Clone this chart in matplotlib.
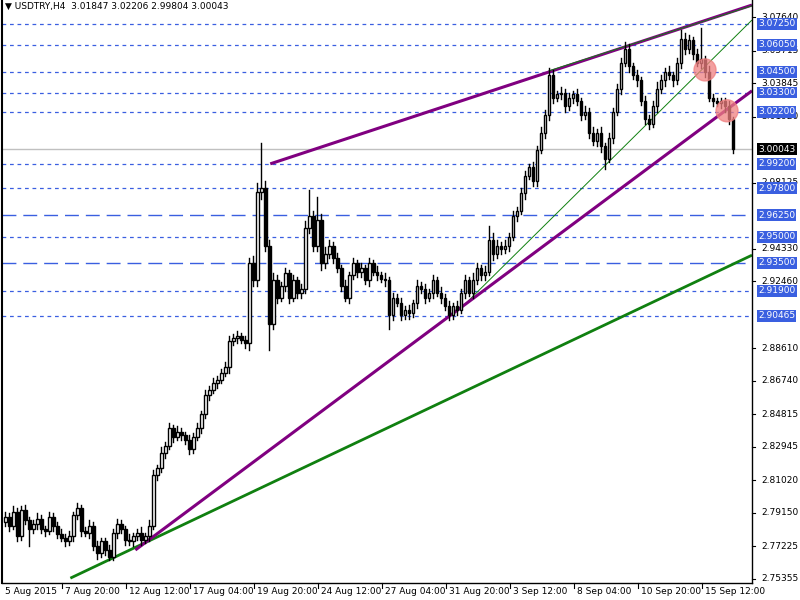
import numpy as np
import matplotlib.pyplot as plt
from matplotlib.patches import Ellipse

# USDTRY H4 closes, one per bar
closes = [2.789,2.784,2.792,2.778,2.793,2.787,2.782,2.785,2.788,2.782,
          2.781,2.789,2.784,2.779,2.777,2.775,2.778,2.790,2.794,2.781,
          2.780,2.784,2.772,2.768,2.775,2.770,2.766,2.780,2.785,2.782,
          2.776,2.775,2.778,2.780,2.776,2.778,2.784,2.813,2.817,2.826,
          2.830,2.840,2.835,2.838,2.836,2.833,2.828,2.835,2.840,2.848,
          2.859,2.862,2.866,2.868,2.872,2.875,2.890,2.892,2.893,2.891,
          2.889,2.935,2.925,2.976,2.978,2.945,2.900,2.925,2.915,2.922,
          2.929,2.915,2.925,2.918,2.920,2.955,2.962,2.945,2.960,2.935,
          2.940,2.945,2.938,2.932,2.922,2.915,2.928,2.935,2.930,2.932,
          2.925,2.935,2.930,2.928,2.926,2.925,2.905,2.915,2.912,2.905,
          2.908,2.906,2.912,2.922,2.920,2.915,2.918,2.925,2.918,2.915,
          2.910,2.905,2.910,2.908,2.918,2.925,2.918,2.925,2.932,2.928,
          2.930,2.948,2.940,2.945,2.943,2.945,2.950,2.962,2.965,2.975,
          2.985,2.990,2.982,3.000,3.010,3.020,3.043,3.030,3.032,3.033,
          3.025,3.030,3.032,3.028,3.020,3.022,3.010,3.005,3.010,3.002,
          2.995,3.007,3.022,3.035,3.050,3.058,3.048,3.043,3.040,3.028,
          3.018,3.015,3.025,3.035,3.040,3.045,3.043,3.040,3.050,3.064,
          3.058,3.063,3.055,3.050,3.052,3.045,3.030,3.028,3.027,3.028,
          3.025,3.018,3.00043]
# wick lengths in thousandths
wick_up = [3,2,3,2,2,3,2,2,3,2, 2,3,2,2,3,2,3,2,3,2, 2,3,2,3,2,2,3,2,3,2,
           2,3,2,2,3,2,3,3,2,3, 2,3,2,3,2,2,3,2,3,2, 3,2,3,2,2,3,3,2,3,2,
           2,3,4,5,26,4,3,4,3,2, 3,2,3,2,3,4,15,3,13,3, 4,3,2,3,2,3,2,3,2,3,
           2,3,2,3,2,3,2,3,2,3, 2,3,2,3,2,3,2,3,2,3, 2,3,2,3,2,3,2,4,3,2,
           3,8,4,3,2,3,2,3,2,3, 3,2,3,2,3,3,4,3,2,3, 2,3,2,3,2,3,2,3,2,3,
           2,3,2,3,3,4,3,2,3,2, 3,2,3,4,3,2,3,2,3,5, 3,3,2,3,18,2,3,2,2,2,
           2,3,1]
wick_dn = [2,3,2,3,2,2,10,2,3,2, 3,2,3,2,2,3,2,3,2,3, 2,3,2,3,2,3,2,2,3,2,
           3,2,3,2,3,2,3,2,3,2, 3,2,3,2,3,2,3,2,2,3, 2,3,2,3,2,2,3,2,3,2,
           3,4,3,3,4,3,15,3,3,2, 3,3,2,3,3,2,3,3,3,4, 3,2,3,2,3,2,3,2,3,3,
           2,3,2,3,2,3,8,3,2,3, 2,3,2,3,2,3,2,3,2,3, 2,3,2,3,2,3,2,3,2,3,
           3,2,3,2,3,2,3,2,3,2, 3,2,3,3,2,3,3,3,2,3, 3,2,3,2,3,2,3,2,3,3,
           6,2,3,2,3,2,3,2,3,2, 3,3,2,3,2,3,2,3,2,3, 3,2,3,2,3,3,2,3,2,3,
           3,3,2]
first_open = 2.786

dotted_levels = [3.0725, 3.0605, 3.0450, 3.0330, 3.0220, 2.9920, 2.9780, 2.9500, 2.9190, 2.90465]
dashed_levels = [2.9625, 2.9350]
last_price = 3.00043
axis_ticks = [3.07640, 3.05715, 3.03845, 3.01920, 2.98125, 2.94330,
              2.92460, 2.88610, 2.86740, 2.84815, 2.82945, 2.81020, 2.79150,
              2.77225, 2.75355]
time_labels = ['7 Aug 20:00', '12 Aug 12:00', '17 Aug 04:00', '19 Aug 20:00', '24 Aug 12:00',
               '27 Aug 04:00', '31 Aug 20:00', '3 Sep 12:00', '8 Sep 04:00', '10 Sep 20:00',
               '15 Sep 12:00']
time_pos = [15, 31, 47, 63, 79, 95, 111, 127, 143, 159, 175]

# trend lines: (bar0, price0, bar1, price1)
purple_top = (66.25, 2.9920, 186.75, 3.0833)
purple_low = (32.5, 2.7700, 186.75, 3.0340)
green_thick = (16.25, 2.7538, 186.75, 2.9395)
green_thin = (113.5, 2.9080, 186.75, 3.0747)
circles = [(175.0, 3.0460), (180.5, 3.0225)]

fig = plt.figure(figsize=(8, 6), dpi=100)
ax = fig.add_axes([0.003, 0.028, 0.937, 0.972])
ymin, ymax = 2.7509, 3.0862
ax.set_ylim(ymin, ymax)
ax.set_xlim(-0.75, 186.75)

for lv in dotted_levels:
    ax.axhline(lv, color='#3a5fe0', lw=0.9, ls=(0, (3, 3)), zorder=1)
for lv in dashed_levels:
    ax.axhline(lv, color='#3a5fe0', lw=1.0, ls=(0, (10, 5)), zorder=1)
ax.axhline(last_price, color='#c0c0c0', lw=1.0, zorder=1)

for (x0, y0, x1, y1), c, w in [(green_thick, '#108010', 2.0), (green_thin, '#108010', 0.7),
                               (purple_low, '#800080', 2.2), (purple_top, '#800080', 2.2)]:
    ax.plot([x0, x1], [y0, y1], color=c, lw=w, zorder=2, solid_capstyle='butt')
ax.plot([136, 186.75], [3.0455, 3.0829], color='#108010', lw=0.7, zorder=2)

opens = [first_open] + closes[:-1]
for i, (o, c) in enumerate(zip(opens, closes)):
    hi = max(o, c) + wick_up[i] / 1000
    lo = min(o, c) - wick_dn[i] / 1000
    ax.plot([i, i], [lo, hi], color='black', lw=1.0, zorder=3)
    bottom = min(o, c)
    h = max(abs(c - o), 0.0004)
    ax.bar(i, h, bottom=bottom, width=0.65, color='white' if c >= o else 'black',
           edgecolor='black', linewidth=1.0, zorder=4)

for cx, cy in circles:
    ax.add_patch(Ellipse((cx, cy), 5.5, 22 / 1739, color='#f08080', alpha=0.75, zorder=5))

ax.tick_params(left=False, labelleft=False, bottom=False, labelbottom=False)
ax.spines['top'].set_visible(False)
ax.spines['left'].set_linewidth(1.5)
ax.spines['bottom'].set_linewidth(1.0)
ax.spines['right'].set_linewidth(1.0)

fs = 6.5
# right price axis
for t in axis_ticks:
    ax.plot([186.75, 187.6], [t, t], color='black', lw=0.8, clip_on=False)
    ax.text(1.012, t, '%.5f' % t, transform=ax.get_yaxis_transform(), fontsize=fs,
            va='center', ha='left', color='black')
for lv in dotted_levels + dashed_levels:
    ax.text(1.008, lv, '%.5f' % lv if lv == 2.90465 else '%.4f0' % lv,
            transform=ax.get_yaxis_transform(), fontsize=fs, va='center', ha='left',
            color='white', bbox=dict(boxstyle='square,pad=0.15', fc='#3a5fe0', ec='none'))
ax.text(1.008, last_price, '%.5f' % last_price, transform=ax.get_yaxis_transform(),
        fontsize=fs, va='center', ha='left', color='white',
        bbox=dict(boxstyle='square,pad=0.15', fc='black', ec='none'))

# bottom time axis
ax.text(0.0, -0.006, '5 Aug 2015', transform=ax.get_xaxis_transform(), fontsize=fs,
        va='top', ha='left')
for p, lab in zip(time_pos, time_labels):
    ax.plot([p - 0.75, p - 0.75], [ymin, ymin - 0.003], color='black', lw=0.8, clip_on=False)
    ax.text(p, -0.006, lab, transform=ax.get_xaxis_transform(), fontsize=fs, va='top', ha='left')

ax.text(0.003, 0.997, '\u25bc USDTRY,H4  3.01847 3.02206 2.99804 3.00043', transform=ax.transAxes,
        fontsize=fs, va='top', ha='left')

fig.savefig('out.png', dpi=100)
